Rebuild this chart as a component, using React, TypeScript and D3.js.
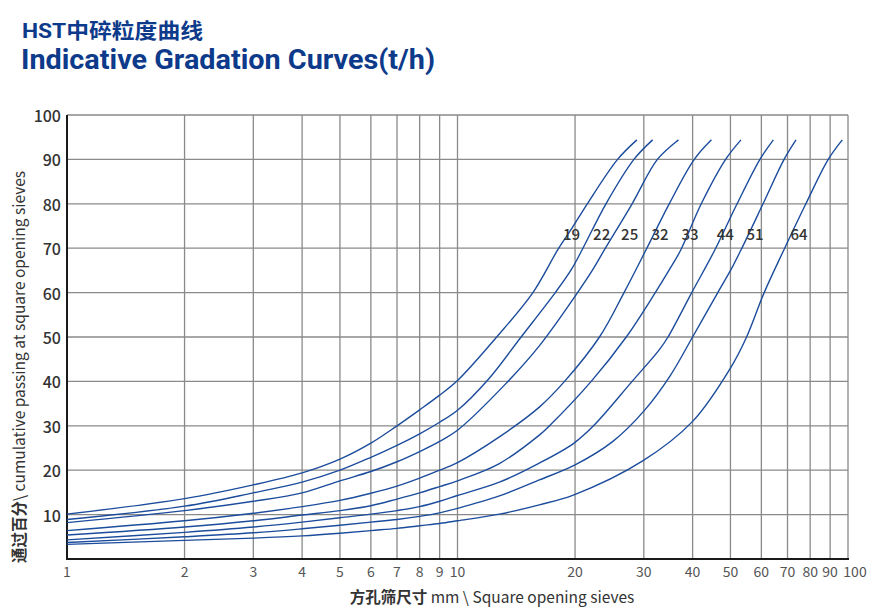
import React from "react";
import * as d3 from "d3";

const curveLabels = ["19", "22", "25", "32", "33", "44", "51", "64"];
const labelX = [19.6, 23.4, 27.6, 33.0, 39.4, 48.5, 57.8, 74.9];
const labelY = 73.4;

const curve19: [number, number][] = [[1,10.1],[2,13.6],[3,16.7],[4,19.4],[5,22.5],[6,26.1],[7,30],[8,33.6],[9,36.9],[10,40.2],[12.6,50],[15.6,60],[18.05,69.6],[19.7,74.7],[21.5,80],[25.7,90],[28.8,94.4]];
const curve22: [number, number][] = [[1,8.9],[2,11.9],[3,14.9],[4,17.3],[5,20.0],[6,22.9],[7,25.6],[8,28.2],[9,30.8],[10,33.5],[12.0,40.5],[14.55,50],[17.8,60],[19.54,65.1],[20.84,69.6],[24.0,80],[28.3,90],[31.6,94.4]];
const curve25: [number, number][] = [[1,8.2],[2,10.9],[3,13.0],[4,14.9],[5,17.6],[6,19.7],[7,21.9],[8,24.2],[9,26.5],[10,29],[13.3,39.5],[16.2,48],[20.3,60],[22.18,65.1],[23.77,69.6],[28.0,80],[32.5,90],[36.8,94.4]];
const curve32: [number, number][] = [[1,6.4],[2,8.6],[3,10.3],[4,11.8],[5,13.2],[6,14.8],[7,16.4],[8,18.2],[9,20.0],[10,21.7],[12.8,27.5],[16.2,34.2],[18.8,40],[23.1,50],[26.7,60],[30.38,69.6],[34.85,80],[40.4,90],[44.7,94.4]];
const curve33: [number, number][] = [[1,5.4],[2,7.2],[3,8.6],[4,9.9],[5,10.9],[6,12.0],[7,13.5],[8,14.9],[9,16.3],[10,17.6],[12.8,21.5],[16.2,27.9],[17.2,30],[22.0,40],[27.05,50],[32.1,60],[34.85,65.1],[37.3,69.6],[42.1,80],[48.6,90],[53.2,94.4]];
const curve44: [number, number][] = [[1,4.3],[2,6.0],[3,7.2],[4,8.3],[5,9.3],[6,10.1],[7,10.9],[8,11.8],[9,13.0],[10,14.3],[12.8,17.3],[16.2,21.6],[19.8,26],[22.3,30],[28.0,40],[32.85,47.1],[34.6,50],[39.8,60],[45.6,69.6],[52.0,80],[59.5,90],[64.4,94.4]];
const curve51: [number, number][] = [[1,3.7],[2,5.0],[3,5.9],[4,6.8],[5,7.6],[6,8.3],[7,8.9],[8,9.6],[9,10.4],[10,11.4],[12.8,14.2],[16.2,17.8],[20,21.2],[25,26.5],[30,33.3],[35,41.2],[40,50],[46.4,60],[50.1,65.1],[53.2,69.6],[60.6,80],[68.6,90],[73.6,94.4]];
const curve64: [number, number][] = [[1,3.3],[2,4.2],[3,4.7],[4,5.2],[5,5.8],[6,6.4],[7,6.9],[8,7.5],[9,8.0],[10,8.6],[12.8,10.1],[16.2,12.2],[19.8,14.4],[29.8,22.1],[40,31],[50,43],[55,50],[61,60],[68.5,69.6],[78,80],[89,90],[96.7,94.4]];

const curves = [curve19, curve22, curve25, curve32, curve33, curve44, curve51, curve64];

const xTicks = [1, 2, 3, 4, 5, 6, 7, 8, 9, 10, 20, 30, 40, 50, 60, 70, 80, 90, 100];
const yTicks = [10, 20, 30, 40, 50, 60, 70, 80, 90, 100];

const W = 888;
const H = 614;

export default function App() {
  const x = d3.scaleLog().domain([1, 100]).range([67, 848]);
  const y = d3.scaleLinear().domain([0, 100]).range([559, 115]);
  const line = d3
    .line<[number, number]>()
    .x((d) => x(d[0]))
    .y((d) => y(d[1]))
    .curve(d3.curveCatmullRom.alpha(0.5));

  const gridColor = "#8a8a8a";
  const textFont = '"Noto Sans CJK SC", "Noto Sans", sans-serif';

  return (
    <svg
      width={W}
      height={H}
      viewBox={`0 0 ${W} ${H}`}
      style={{ position: "absolute", left: 0, top: 0, background: "#fff" }}
    >
      <rect x={0} y={0} width={W} height={H} fill="#fff" />
      <text
        x={22}
        y={38}
        fontFamily='Roboto, "Noto Sans CJK SC", sans-serif'
        fontSize={21}
        fontWeight={700}
        fill="#0d3a8a"
        textLength={181}
        lengthAdjust="spacingAndGlyphs"
      >
        HST中碎粒度曲线
      </text>
      <text
        x={21}
        y={69}
        fontFamily="Roboto, sans-serif"
        fontSize={27}
        fontWeight={700}
        fill="#0d3a8a"
        textLength={414}
        lengthAdjust="spacingAndGlyphs"
      >
        Indicative Gradation Curves(t/h)
      </text>

      {yTicks.map((t) => (
        <line key={"h" + t} x1={x(1)} x2={x(100)} y1={y(t)} y2={y(t)} stroke={gridColor} strokeWidth={1.3} />
      ))}
      {xTicks.slice(1).map((t) => (
        <line key={"v" + t} x1={x(t)} x2={x(t)} y1={y(100)} y2={y(0)} stroke={gridColor} strokeWidth={1.3} />
      ))}
      <line x1={x(1)} x2={x(1)} y1={y(100)} y2={y(0) + 1} stroke="#1a1a1a" strokeWidth={2} />
      <line x1={x(1) - 1} x2={x(100) + 1} y1={y(0)} y2={y(0)} stroke="#1a1a1a" strokeWidth={2} />

      {yTicks.map((t) => (
        <text
          key={"yl" + t}
          x={61}
          y={y(t)}
          textAnchor="end"
          dominantBaseline="central"
          fontFamily={textFont}
          fontSize={16}
          fontWeight={500}
          fill="#333"
        >
          {t}
        </text>
      ))}
      {xTicks.map((t, i) => (
        <text
          key={"xl" + t}
          x={x(t) + (i === xTicks.length - 1 ? 7 : 0)}
          y={577}
          textAnchor="middle"
          fontFamily={textFont}
          fontSize={14}
          fill="#555"
        >
          {t}
        </text>
      ))}

      {curves.map((c, i) => (
        <path key={"c" + i} d={line(c) || ""} fill="none" stroke="#1c4c9c" strokeWidth={1.4} />
      ))}

      {curveLabels.map((l, i) => (
        <text
          key={"lab" + l}
          x={x(labelX[i])}
          y={y(labelY)}
          textAnchor="middle"
          dominantBaseline="central"
          fontFamily={textFont}
          fontSize={15}
          fontWeight={500}
          fill="#333"
        >
          {l}
        </text>
      ))}

      <text
        x={492}
        y={603}
        textAnchor="middle"
        fontFamily={textFont}
        fontSize={15.5}
        fill="#333"
      >
        <tspan fontWeight={700}>方孔筛尺寸</tspan>
        <tspan> mm \ Square opening sieves</tspan>
      </text>
      <text
        transform="translate(18,367) rotate(-90)"
        textAnchor="middle"
        dominantBaseline="central"
        fontFamily={textFont}
        fontSize={15.5}
        fill="#333"
      >
        <tspan fontWeight={700}>通过百分</tspan>
        <tspan>\ cumulative passing at square opening sieves</tspan>
      </text>
    </svg>
  );
}
